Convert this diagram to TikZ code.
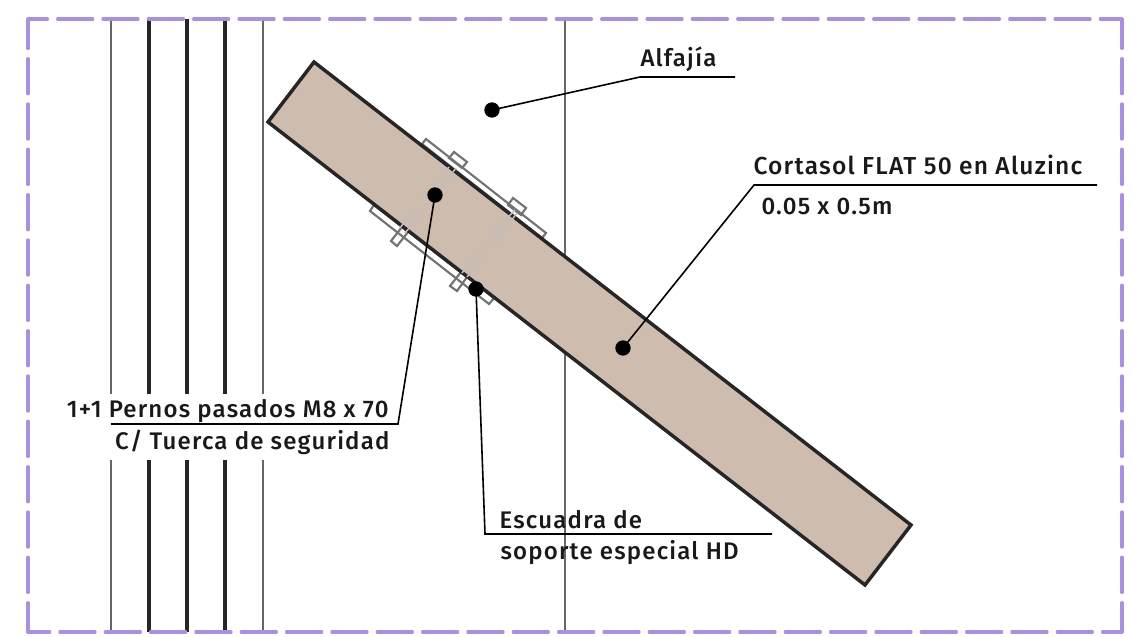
\documentclass[tikz,border=0pt]{standalone}
\usepackage{fontspec}
\setmainfont{Fira Sans}[UprightFont=* Medium,LetterSpace=5]
\definecolor{framepurple}{HTML}{A98FE6}
\definecolor{beamtan}{HTML}{CEBCAE}
\tikzset{every picture/.style={line width=0.75pt}}
\tikzset{
  frameline/.style={color=framepurple,line width=2.3pt,line cap=round,dash pattern=on 26.4pt off 7.6pt},
  wallthin/.style={color=black!60,line width=1.7pt},
  wallthick/.style={color=black!85,line width=2.4pt},
  beamshape/.style={fill=beamtan,draw=black!85,line width=2.6pt,line join=miter},
  plateline/.style={draw=black!55,line width=1.6pt},
  boltline/.style={draw=black!25,line width=1.1pt},
  leaderdot/.style={circle,fill=black,inner sep=0pt,minimum size=11.5pt},
  leaderline/.style={color=black,line width=1.2pt},
  labeltext/.style={font=\fontsize{18}{20}\selectfont,color=black!90,anchor=base west,inner sep=0pt},
}

\begin{document}
\begin{tikzpicture}[x=0.75pt,y=0.75pt,yscale=-1,xscale=1]
	\useasboundingbox (0,0) rectangle (1134,636);

	%Wall lines
	\foreach \xpos/\kind in {111/wallthin,149/wallthick,187/wallthick,225/wallthick,263/wallthin}{
		\draw [\kind] (\xpos,19) -- (\xpos,394);
		\draw [\kind] (\xpos,460) -- (\xpos,632);
	}
	\draw [wallthin] (565,19) -- (565,632);

	%Frame
	\draw [frameline,dash phase=11.8pt] (28,19) -- (1122,19);
	\draw [frameline,dash phase=4.3pt] (28,19) -- (28,632);
	\draw [frameline,dash phase=11.8pt] (1122,632) -- (28,632);
	\draw [frameline,dash phase=4.3pt] (1122,19) -- (1122,632);

	%Brackets
	\draw [plateline] (422,144) -- (426,139) -- (546,233) -- (542,238) -- cycle;
	\draw [plateline] (374,205) -- (370,211) -- (489,304) -- (494,298) -- cycle;

	%Nuts and bolt heads
	\draw [plateline] (454,152) -- (467,162) -- (462,168) -- (449,158) -- cycle;
	\draw [plateline] (513,198) -- (526,208) -- (521,215) -- (508,205) -- cycle;
	\draw [plateline] (391,241) -- (397,246) -- (408,232) -- (402,227) -- cycle;
	\draw [plateline] (450,286) -- (457,291) -- (467,277) -- (461,272) -- cycle;

	%Beam
	\draw [beamshape] (314,62) -- (911,525) -- (865,585) -- (268,122) -- cycle;

	%Bolt shanks
	\draw [boltline] (449,167) -- (422,200) (413,210) -- (400,228);
	\draw [boltline] (456,168) -- (428,205) (420,215) -- (405,233);
	\draw [boltline] (515,210) -- (488,238) (482,247) -- (462,273);
	\draw [boltline] (517,213) -- (494,243) (488,251) -- (467,277);

	%Leader dots
	\node [leaderdot] (dotalfajia) at (492,110) {};
	\node [leaderdot] (dotpernos) at (435,195) {};
	\node [leaderdot] (dotescuadra) at (476,289) {};
	\node [leaderdot] (dotcortasol) at (623,348) {};

	%Leader elbows
	\coordinate (elbowalfajia) at (640,77);
	\coordinate (endalfajia) at (735,77);
	\coordinate (elbowcortasol) at (754,185);
	\coordinate (endcortasol) at (1097,185);
	\coordinate (elbowpernos) at (398,424);
	\coordinate (endpernos) at (111,424);
	\coordinate (elbowescuadra) at (485,534);
	\coordinate (endescuadra) at (772,534);

	%Leader lines
	\draw [leaderline] (dotalfajia.center) -- (elbowalfajia) -- (endalfajia);
	\draw [leaderline] (dotcortasol.center) -- (elbowcortasol) -- (endcortasol);
	\draw [leaderline] (dotpernos.center) -- (elbowpernos) -- (endpernos);
	\draw [leaderline] (dotescuadra.center) -- (elbowescuadra) -- (endescuadra);

	% Text Node
	\node [labeltext] (txtalfajia) at (640,66) {Alfajía};
	% Text Node
	\node [labeltext,font=\fontsize{18.4}{20}\selectfont] (txtcortasol) at (753,174) {Cortasol FLAT 50 en Aluzinc};
	\node [labeltext] (txtmedida) at (761,214) {0.05 x 0.5m};
	% Text Node
	\node [labeltext,anchor=base east] (txtpernos) at (389,417) {1+1 Pernos pasados M8 x 70};
	\node [labeltext,anchor=base east] (txttuerca) at (390,449) {C/ Tuerca de seguridad};
	% Text Node
	\node [labeltext] (txtescuadra) at (499,528) {Escuadra de};
	\node [labeltext] (txtsoporte) at (500,559) {soporte especial HD};
\end{tikzpicture}
\end{document}
